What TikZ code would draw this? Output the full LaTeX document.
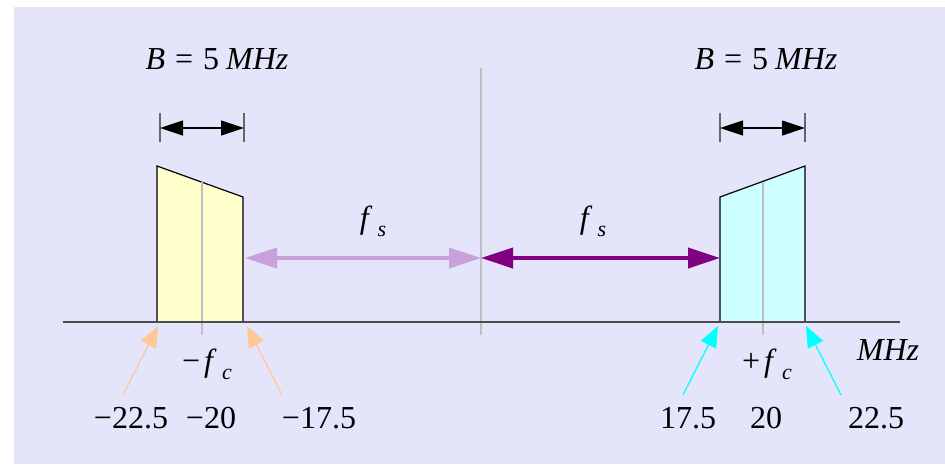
\documentclass[tikz,border=0pt]{standalone}
\usepackage{fontspec}
\setmainfont{Liberation Serif}
\usetikzlibrary{arrows.meta}
\definecolor{bgc}{HTML}{E4E4FA}
\definecolor{yel}{HTML}{FFFFCC}
\definecolor{cyf}{HTML}{CCFFFF}
\definecolor{lpur}{HTML}{C8A0DA}
\definecolor{dpur}{HTML}{800080}
\definecolor{orng}{HTML}{FFC896}
\definecolor{cyn}{HTML}{00FFFF}
\newcommand\mysubsc[2]{#1\,\raisebox{-0.28em}{\fontsize{22}{24}\selectfont\textit{#2}}}
\newcommand\bandw{\textit{B}\hspace{10pt}=\hspace{10pt}5\hspace{7pt}\textit{MHz}}
\begin{document}
\begin{tikzpicture}[x=1pt,y=-1pt,
  lbl/.style={font=\fontsize{32}{36}\selectfont, inner sep=0pt, anchor=base},
  blockline/.style={draw=black, line width=1.2pt},
  midline/.style={draw=black!25, line width=1.2pt},
  dimarrow/.style={line width=1.2pt, {Triangle[length=23pt,width=15pt]}-{Triangle[length=23pt,width=15pt]}},
  dimtick/.style={draw=black!60, line width=1.5pt},
  fsarrow/.style={line width=4pt, {Triangle[length=32pt,width=20pt]}-{Triangle[length=32pt,width=20pt]}},
  pointer/.style={line width=1.2pt, -{Triangle[length=21pt,width=17pt]}}]
\useasboundingbox (0,0) rectangle (945,464);
\fill[bgc] (14,7) rectangle (945,464);

% centre line and axis
\draw[midline] (481,68) -- (481,335);
\coordinate (axL) at (63,322);
\coordinate (axR) at (900,322);

% left block
\filldraw[fill=yel, blockline] (157,322) -- (157,166) -- (243,197) -- (243,322);
\draw[midline] (202,182) -- (202,335);
% right block
\filldraw[fill=cyf, blockline] (720,322) -- (720,197) -- (805,166) -- (805,322);
\draw[midline] (763,182) -- (763,335);
\draw[draw=black!70, line width=1.3pt] (axL) -- (axR);

% dimension markers
\coordinate (dl1) at (160,128); \coordinate (dl2) at (244,128);
\coordinate (dr1) at (720,128); \coordinate (dr2) at (805,128);
\draw[dimtick] (160,113) -- (160,142);
\draw[dimtick] (244,113) -- (244,142);
\draw[dimtick] (720,113) -- (720,142);
\draw[dimtick] (805,113) -- (805,142);
\draw[dimarrow] (dl1) -- (dl2);
\draw[dimarrow] (dr1) -- (dr2);

\node[lbl] (bl) at (217,69) {\bandw};
\node[lbl] (br) at (766,69) {\bandw};

% fs arrows
\coordinate (fa) at (245,258);
\coordinate (fm) at (481,258);
\coordinate (fb) at (720,258);
\draw[fsarrow, lpur] (fa) -- (fm);
\draw[fsarrow, dpur] (fm) -- (fb);
\node[lbl] (fs1) at (373,228) {\mysubsc{\textit{f}}{s}};
\node[lbl] (fs2) at (593,228) {\mysubsc{\textit{f}}{s}};

% fc labels
\node[lbl] (fcl) at (207,371) {\mysubsc{−\hspace{4pt}\textit{f}}{c}};
\node[lbl] (fcr) at (767,371) {\mysubsc{+\hspace{4pt}\textit{f}}{c}};
\node[lbl] (mhz) at (888,360) {\textit{MHz}};

% frequency numbers
\node[lbl] (n1) at (131,428) {−22.5};
\node[lbl] (n2) at (211,428) {−20};
\node[lbl] (n3) at (319,428) {−17.5};
\node[lbl] (n4) at (688,428) {17.5};
\node[lbl] (n5) at (766,428) {20};
\node[lbl] (n6) at (876,428) {22.5};

% pointers
\coordinate (p1t) at (123,395); \coordinate (p1h) at (158,326);
\coordinate (p2t) at (282,395); \coordinate (p2h) at (247,326);
\coordinate (p3t) at (683,395); \coordinate (p3h) at (718,326);
\coordinate (p4t) at (841,395); \coordinate (p4h) at (806,326);
\draw[pointer, orng] (p1t) -- (p1h);
\draw[pointer, orng] (p2t) -- (p2h);
\draw[pointer, cyn] (p3t) -- (p3h);
\draw[pointer, cyn] (p4t) -- (p4h);
\end{tikzpicture}
\end{document}
